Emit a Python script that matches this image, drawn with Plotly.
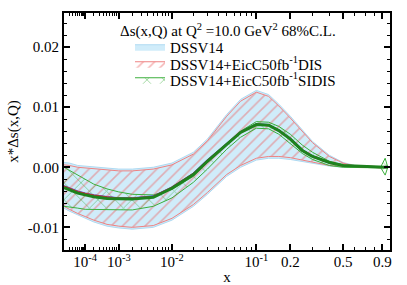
import numpy as np
import plotly.graph_objects as go

# ---------------- data (x, x*Δs values) ----------------
x_vals = [1e-5, 2e-5, 5e-5, 1e-4, 2e-4, 5e-4, 1e-3, 2e-3, 5e-3, 1e-2, 2e-2, 3e-2,
          5e-2, 0.07, 0.1, 0.13, 0.16, 0.2, 0.25, 0.3, 0.4, 0.5, 0.6, 0.7, 0.8, 0.88]

dssv_up = [0.0008, 0.0007, 0.0003, 0.0002, 0.0000, -0.0002, -0.0003, -0.0003, 0.0000, 0.0007,
           0.0025, 0.0047, 0.0088, 0.0113, 0.0128, 0.0121, 0.0105, 0.0085, 0.0062, 0.0043,
           0.0020, 0.0008, 0.0003, 0.0001, 0.0000, 0.0000]
dssv_lo = [-0.0068, -0.0073, -0.0080, -0.0085, -0.0091, -0.0098, -0.0101, -0.0103, -0.0100, -0.0088,
           -0.0065, -0.0045, -0.0015, 0.0000, 0.0012, 0.0015, 0.0015, 0.0013, 0.0010, 0.0007,
           0.0002, 0.0000, 0.0000, 0.0000, 0.0000, 0.0000]
dssv_c = [-0.0031, -0.0035, -0.0040, -0.0043, -0.0046, -0.0049, -0.0051, -0.0051, -0.0048, -0.0033,
          -0.0010, 0.0012, 0.0040, 0.0059, 0.0072, 0.0071, 0.0062, 0.0048, 0.0029, 0.0019,
          0.0008, 0.0003, 0.0002, 0.0001, 0.0000, 0.0000]

dis_up = [0.0004, 0.0003, 0.0000, -0.0001, -0.0003, -0.0005, -0.0006, -0.0006, -0.0003, 0.0004,
          0.0022, 0.0044, 0.0085, 0.0110, 0.0125, 0.0118, 0.0102, 0.0082, 0.0059, 0.0041,
          0.0018, 0.0007, 0.0002, 0.0001, 0.0000, 0.0000]
dis_lo = [-0.0065, -0.0070, -0.0077, -0.0082, -0.0088, -0.0095, -0.0098, -0.0100, -0.0097, -0.0085,
          -0.0062, -0.0042, -0.0012, 0.0003, 0.0015, 0.0018, 0.0018, 0.0016, 0.0012, 0.0008,
          0.0003, 0.0001, 0.0000, 0.0000, 0.0000, 0.0000]
dis_c = [-0.0032, -0.0036, -0.0041, -0.0044, -0.0047, -0.0050, -0.0052, -0.0052, -0.0049, -0.0034,
         -0.0011, 0.0011, 0.0039, 0.0058, 0.0071, 0.0070, 0.0061, 0.0047, 0.0028, 0.0018,
         0.0008, 0.0003, 0.0002, 0.0001, 0.0000, 0.0000]

x_sidis = x_vals + [0.935, 0.97]
sidis_up = [0.0000, -0.0005, -0.0013, -0.0020, -0.0028, -0.0036, -0.0041, -0.0045, -0.0046, -0.0037,
            -0.0015, 0.0008, 0.0038, 0.0060, 0.0076, 0.0075, 0.0068, 0.0055, 0.0037, 0.0025,
            0.0010, 0.0004, 0.0002, 0.0001, 0.0001, 0.0001, 0.0015, 0.0000]
sidis_lo = [-0.0065, -0.0066, -0.0068, -0.0070, -0.0070, -0.0071, -0.0071, -0.0071, -0.0065, -0.0051,
            -0.0025, -0.0003, 0.0030, 0.0050, 0.0065, 0.0064, 0.0055, 0.0040, 0.0023, 0.0013,
            0.0003, 0.0000, -0.0001, -0.0001, -0.0001, -0.0001, -0.0013, 0.0000]
sidis_c = [-0.0034, -0.0038, -0.0043, -0.0046, -0.0049, -0.0052, -0.0053, -0.0053, -0.0050, -0.0035,
           -0.0012, 0.0010, 0.0038, 0.0058, 0.0071, 0.0070, 0.0061, 0.0047, 0.0028, 0.0018,
           0.0008, 0.0003, 0.0002, 0.0001, 0.0000, 0.0000, 0.0000, 0.0000]

x_major = [1e-4, 1e-3, 1e-2, 1e-1, 0.2, 0.5, 0.9]
x_major_text = ["10<sup>-4</sup>", "10<sup>-3</sup>", "10<sup>-2</sup>", "10<sup>-1</sup>", "0.2", "0.5", "0.9"]
y_major = [-0.01, 0.0, 0.01, 0.02]
y_major_text = ["-0.01", "0.00", "0.01", "0.02"]

POW = 0.2  # x-axis scale: x**0.2


def tr(x):
    return np.asarray(x, dtype=float) ** POW


x_minor = [k * 10.0 ** d for d in range(-5, -1) for k in range(2, 10)] + \
          [k * 0.01 for k in range(2, 10)] + [0.3, 0.4, 0.6, 0.7, 0.8]

FONT = "Liberation Serif"
FS = 15

# plot area geometry (pixels)
L, R, T, B = 64, 17, 13, 35
PW, PH = 407 - L - R, 285 - T - B


def px_x(p):
    return (p - L) / PW


def px_y(p):
    return (285 - B - p) / PH


fig = go.Figure()


def band(x, up, lo, name, line_color, fillcolor, legend, pattern=None):
    xx = np.concatenate([tr(x), tr(x)[::-1]])
    yy = np.concatenate([np.asarray(up), np.asarray(lo)[::-1]])
    kw = dict(x=xx, y=yy, mode="lines", fill="toself", name=name,
              line=dict(color=line_color, width=1), fillcolor=fillcolor,
              showlegend=True, legend=legend, hoverinfo="skip")
    if pattern is not None:
        kw["fillpattern"] = pattern
    fig.add_trace(go.Scatter(**kw))


band(x_vals, dssv_up, dssv_lo, "DSSV14", "rgb(175,218,242)", "rgb(208,236,250)", "legend")
band(x_vals, dis_up, dis_lo, "DSSV14+EicC50fb<sup>-1</sup>DIS", "rgb(238,130,130)", "rgba(0,0,0,0)",
     "legend2", dict(shape="/", fgcolor="rgb(236,110,110)", size=8, solidity=0.2, fillmode="overlay"))
band(x_sidis, sidis_up, sidis_lo, "DSSV14+EicC50fb<sup>-1</sup>SIDIS", "rgb(60,175,60)", "rgba(0,0,0,0)",
     "legend3", dict(shape="x", fgcolor="rgb(50,170,50)", size=12, solidity=0.14, fillmode="overlay"))

fig.add_trace(go.Scatter(x=tr(x_vals), y=dssv_c, mode="lines", showlegend=False,
                         line=dict(color="rgb(60,80,220)", width=1.5), hoverinfo="skip"))
fig.add_trace(go.Scatter(x=tr(x_vals), y=dis_c, mode="lines", showlegend=False,
                         line=dict(color="rgb(205,45,45)", width=2), hoverinfo="skip"))
fig.add_trace(go.Scatter(x=tr(x_sidis), y=sidis_c, mode="lines", showlegend=False,
                         line=dict(color="rgb(30,130,30)", width=3), hoverinfo="skip"))


def leg(row_y):
    return dict(x=px_x(130), y=px_y(row_y), xanchor="left", yanchor="middle",
                bgcolor="rgba(0,0,0,0)", font=dict(size=FS, family=FONT),
                itemwidth=30, borderwidth=0)


fig.update_layout(
    width=407, height=285,
    margin=dict(l=L, r=R, t=T, b=B, autoexpand=False),
    paper_bgcolor="white", plot_bgcolor="white",
    font=dict(family=FONT, size=FS, color="black"),
    showlegend=True,
    legend=leg(47), legend2=leg(64), legend3=leg(80),
    annotations=[dict(text="Δs(x,Q) at Q<sup>2</sup> =10.0 GeV<sup>2</sup> 68%C.L.",
                      x=px_x(228), y=px_y(30), xref="paper", yref="paper",
                      xanchor="center", yanchor="middle",
                      showarrow=False, font=dict(size=FS, family=FONT))],
)

fig.update_xaxes(
    range=[tr(1e-5), tr(1.0)], tickmode="array", tickvals=tr(x_major), ticktext=x_major_text,
    ticks="inside", ticklen=6, tickwidth=1.5, tickcolor="black", automargin=False,
    ticklabelstandoff=-3,
    showline=True, linecolor="black", linewidth=2, mirror="allticks", showgrid=False, zeroline=False,
    minor=dict(tickmode="array", tickvals=tr(x_minor), ticks="inside", ticklen=3, tickwidth=1.2,
               tickcolor="black", showgrid=False),
    title=dict(text="x", standoff=2, font=dict(size=FS, family=FONT)),
    tickfont=dict(size=FS, family=FONT),
)
fig.update_yaxes(
    range=[-0.01377, 0.02568], tickmode="array", tickvals=y_major, ticktext=y_major_text,
    ticks="inside", ticklen=6, tickwidth=1.5, tickcolor="black", automargin=False,
    showline=True, linecolor="black", linewidth=2, mirror="allticks", showgrid=False, zeroline=False,
    minor=dict(dtick=0.002, tick0=0, ticks="inside", ticklen=3, tickwidth=1.2,
               tickcolor="black", showgrid=False),
    title=dict(text="x*Δs(x,Q)", standoff=6, font=dict(size=FS, family=FONT)),
    tickfont=dict(size=FS, family=FONT),
)

fig.write_html("out.html", config={"displayModeBar": False},
               post_script="document.body.style.margin='0px';document.body.style.padding='0px';")
